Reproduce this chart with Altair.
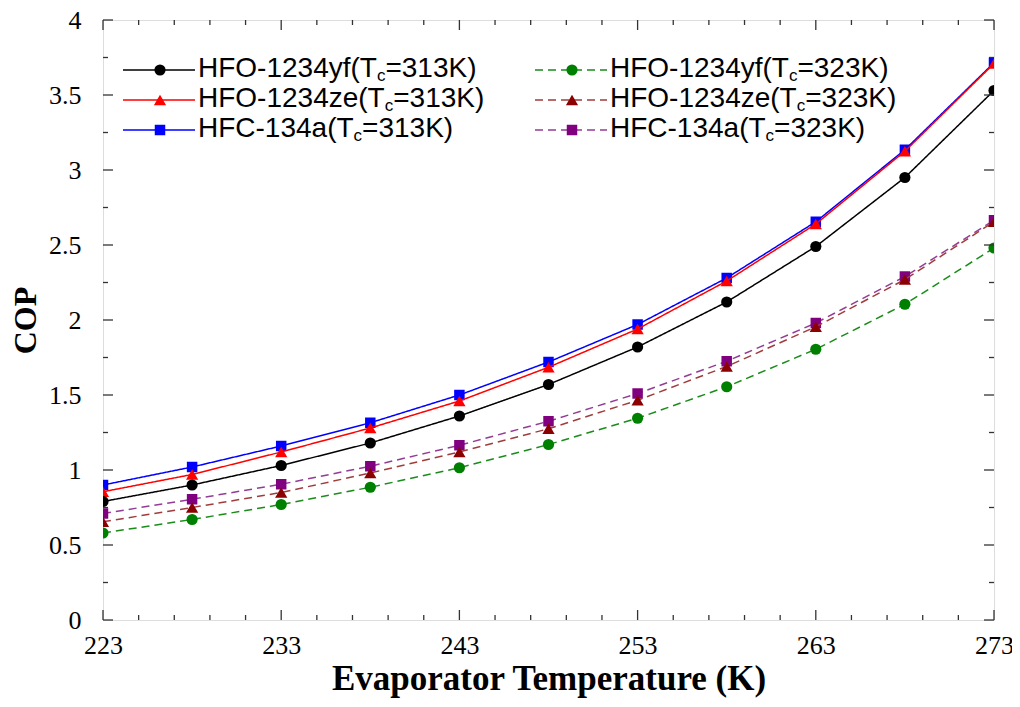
import altair as alt
import pandas as pd

# ---------------- data ----------------
temps = [223, 228, 233, 238, 243, 248, 253, 258, 263, 268, 273]
cop_yf_313 = [0.79, 0.90, 1.03, 1.18, 1.36, 1.57, 1.82, 2.12, 2.49, 2.95, 3.53]
cop_ze_313 = [0.855, 0.97, 1.12, 1.28, 1.46, 1.685, 1.94, 2.26, 2.64, 3.125, 3.71]
cop_134a_313 = [0.90, 1.02, 1.16, 1.315, 1.50, 1.72, 1.97, 2.28, 2.655, 3.135, 3.715]
cop_yf_323 = [0.58, 0.67, 0.77, 0.885, 1.015, 1.17, 1.345, 1.555, 1.805, 2.105, 2.48]
cop_ze_323 = [0.655, 0.75, 0.85, 0.98, 1.12, 1.275, 1.465, 1.69, 1.955, 2.27, 2.655]
cop_134a_323 = [0.71, 0.805, 0.905, 1.025, 1.165, 1.325, 1.51, 1.725, 1.98, 2.29, 2.665]

series_keys = ["yf313", "ze313", "r134a313", "yf323", "ze323", "r134a323"]
series_values = [cop_yf_313, cop_ze_313, cop_134a_313, cop_yf_323, cop_ze_323, cop_134a_323]
legend_prefix = ["HFO-1234yf(T", "HFO-1234ze(T", "HFC-134a(T",
                 "HFO-1234yf(T", "HFO-1234ze(T", "HFC-134a(T"]
legend_suffix = ["=313K)", "=313K)", "=313K)", "=323K)", "=323K)", "=323K)"]

x_major = [223, 233, 243, 253, 263, 273]
x_minor = [t for t in range(223, 274, 2) if t not in x_major]
y_major = [0, 0.5, 1, 1.5, 2, 2.5, 3, 3.5, 4]
y_minor = [0.25 + 0.5 * i for i in range(8)]

# ---------------- styles ----------------
W, H = 891, 600
style = {
    "yf313":    dict(color="#000000", line="#000000", shape="circle",      dash=[1, 0], size=125),
    "ze313":    dict(color="#ff0000", line="#ff0000", shape="triangle-up", dash=[1, 0], size=150),
    "r134a313": dict(color="#0000ff", line="#0000ff", shape="square",      dash=[1, 0], size=110),
    "yf323":    dict(color="#008000", line="#1a8c1a", shape="circle",      dash=[8, 5], size=125),
    "ze323":    dict(color="#8b0000", line="#a03c3c", shape="triangle-up", dash=[8, 5], size=150),
    "r134a323": dict(color="#800080", line="#943c94", shape="square",      dash=[8, 5], size=110),
}
draw_order = ["r134a323", "ze323", "yf323", "r134a313", "ze313", "yf313"]

rows = []
for key, vals in zip(series_keys, series_values):
    for t, v in zip(temps, vals):
        rows.append({"series": key, "T": t, "COP": v})
df = pd.DataFrame(rows)

SERIF = "Liberation Serif"
SANS = "Liberation Sans"

x_scale = alt.Scale(domain=[223, 273], nice=False, zero=False)
y_scale = alt.Scale(domain=[0, 4], nice=False, zero=True)

x_enc = alt.X("T:Q", scale=x_scale, axis=alt.Axis(
    values=x_major, ticks=False, domain=False, grid=False, labelFlush=False,
    labelFont=SERIF, labelFontSize=26, labelColor="black", labelPadding=12,
    title="Evaporator Temperature  (K)", titleFont=SERIF, titleFontSize=35,
    titleFontWeight="bold", titleColor="black", titlePadding=3))
y_enc = alt.Y("COP:Q", scale=y_scale, axis=alt.Axis(
    values=y_major, ticks=False, domain=False, grid=False, labelFlush=False,
    format="~g",
    labelFont=SERIF, labelFontSize=26, labelColor="black", labelPadding=22,
    title="COP", titleFont=SERIF, titleFontSize=32, titleFontWeight="bold",
    titleColor="black", titlePadding=6))

layers = []
# data lines and markers
for key in draw_order:
    st = style[key]
    sub = df[df["series"] == key]
    layers.append(alt.Chart(sub).mark_line(
        color=st["line"], strokeWidth=1.5, strokeDash=st["dash"], clip=True
    ).encode(x=x_enc, y=y_enc))
    layers.append(alt.Chart(sub).mark_point(
        shape=st["shape"], filled=True, color=st["color"], size=st["size"],
        opacity=1, clip=True
    ).encode(x=x_enc, y=y_enc))

# inward ticks on all four sides
def tick_df(field, vals):
    return pd.DataFrame({field: vals})

for vals, L in [(x_major, 10), (x_minor, 5)]:
    d = tick_df("T", vals)
    layers.append(alt.Chart(d).mark_rule(color="#333333", strokeWidth=1.3).encode(
        x=x_enc, y=alt.value(H), y2=alt.value(H - L)))
    layers.append(alt.Chart(d).mark_rule(color="#333333", strokeWidth=1.3).encode(
        x=x_enc, y=alt.value(0), y2=alt.value(L)))
for vals, L in [(y_major, 10), (y_minor, 5)]:
    d = tick_df("COP", vals)
    layers.append(alt.Chart(d).mark_rule(color="#333333", strokeWidth=1.3).encode(
        y=y_enc, x=alt.value(0), x2=alt.value(L)))
    layers.append(alt.Chart(d).mark_rule(color="#333333", strokeWidth=1.3).encode(
        y=y_enc, x=alt.value(W), x2=alt.value(W - L)))

# ---------------- manual legend ----------------
ARIAL = {'H': 722, 'F': 611, 'O': 778, '-': 333, 'y': 500, 'f': 278, '(': 333,
         'T': 611, 'z': 500, 'e': 556, 'C': 722, 'a': 556, '=': 584, 'K': 667,
         ')': 333, 'c': 500}
for dgt in "0123456789":
    ARIAL[dgt] = 556


def text_width(s, size):
    return sum(ARIAL.get(ch, 556) for ch in s) / 1000.0 * size


FS, SUB_FS = 28, 17
one = alt.Data(values=[{"k": 1}])
col_x = [(20, 92, 57, 95), (432, 504, 469, 507)]  # line start, line end, marker, text
row_y = [50, 80, 110]
for i, key in enumerate(series_keys):
    st = style[key]
    lx0, lx1, mx, tx = col_x[i // 3]
    yc = row_y[i % 3]
    base = yc + 7
    layers.append(alt.Chart(one).mark_rule(
        color=st["line"], strokeWidth=1.5, strokeDash=st["dash"]
    ).encode(x=alt.value(lx0), x2=alt.value(lx1), y=alt.value(yc)))
    layers.append(alt.Chart(one).mark_point(
        shape=st["shape"], filled=True, color=st["color"], size=st["size"], opacity=1
    ).encode(x=alt.value(mx), y=alt.value(yc)))
    pre = legend_prefix[i]
    layers.append(alt.Chart(one).mark_text(
        text=pre, align="left", baseline="alphabetic", font=SANS, fontSize=FS, color="black"
    ).encode(x=alt.value(tx), y=alt.value(base)))
    sx = tx + text_width(pre, FS)
    layers.append(alt.Chart(one).mark_text(
        text="c", align="left", baseline="alphabetic", font=SANS, fontSize=SUB_FS, color="black"
    ).encode(x=alt.value(sx), y=alt.value(base + 4)))
    rx = sx + text_width("c", SUB_FS)
    layers.append(alt.Chart(one).mark_text(
        text=legend_suffix[i], align="left", baseline="alphabetic", font=SANS, fontSize=FS,
        color="black"
    ).encode(x=alt.value(rx), y=alt.value(base)))

chart = alt.layer(*layers).properties(
    width=W, height=H,
    autosize=alt.AutoSizeParams(type="none"),
    padding={"left": 95, "top": 12, "right": 18, "bottom": 79},
).configure_view(stroke="#333333", strokeWidth=1.5).configure(background="white")

chart.save("out.html", embed_options={"renderer": "svg", "actions": False})
